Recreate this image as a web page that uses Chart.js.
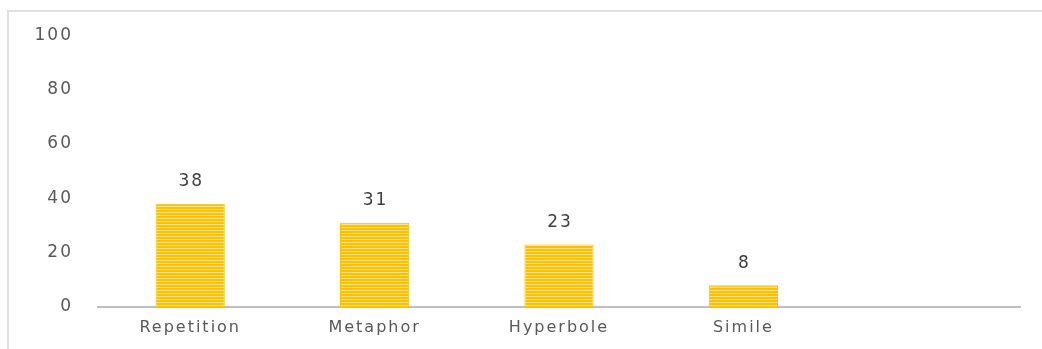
<!DOCTYPE html>
<html>
<head>
<meta charset="utf-8">
<script src="https://cdn.jsdelivr.net/npm/chart.js@4/dist/chart.umd.min.js"></script>
<style>
  body { margin: 0; background: #fff; overflow: hidden; }
  #wrap { position: relative; width: 1042px; height: 349px; }
  #frame { position: absolute; left: 7px; top: 10px; width: 1100px; height: 400px;
           border-top: 2px solid #e0e0e0; border-left: 2px solid #e0e0e0; }
</style>
</head>
<body>
<div id="wrap">
  <div id="frame"></div>
  <canvas id="grafica"></canvas>
</div>
<script>
// Datos de la gráfica
var categorias = ['Repetition', 'Metaphor', 'Hyperbole', 'Simile', ''];
var valores = [38, 31, 23, 8, null];
var ticksY = [0, 20, 40, 60, 80, 100];

// Relleno rayado de las barras
function rayado() {
  var c = document.createElement('canvas');
  c.width = 4; c.height = 3;
  var g = c.getContext('2d');
  g.fillStyle = '#FFC000';
  g.fillRect(0, 0, 4, 3);
  g.fillStyle = '#FFE38C';
  g.fillRect(0, 2, 4, 1);
  return g.createPattern(c, 'repeat');
}

// Espaciado de letras como en el original
var espaciado = {
  id: 'espaciado',
  beforeDraw: function (chart) {
    chart.ctx.letterSpacing = '2px';
  }
};

// Etiquetas de valor encima de cada barra
var etiquetas = {
  id: 'etiquetas',
  afterDatasetsDraw: function (chart) {
    var ctx = chart.ctx;
    var meta = chart.getDatasetMeta(0);
    ctx.save();
    ctx.letterSpacing = '2px';
    ctx.font = '17px "DejaVu Sans"';
    ctx.fillStyle = '#404040';
    ctx.textAlign = 'center';
    ctx.textBaseline = 'middle';
    meta.data.forEach(function (bar, i) {
      if (valores[i] == null) return;
      ctx.fillText(String(valores[i]), bar.x + 1, bar.y - 22);
    });
    ctx.restore();
  }
};

var ctx = document.getElementById('grafica').getContext('2d');
var myChart = new Chart(ctx, {
  type: 'bar',
  data: {
    labels: categorias,
    datasets: [{
      data: valores,
      backgroundColor: rayado(),
      borderColor: '#FFC000',
      borderWidth: 1,
      barPercentage: 0.75,
      categoryPercentage: 0.5
    }]
  },
  options: {
    responsive: true,
    maintainAspectRatio: false,
    animation: false,
    layout: { padding: { top: 32, right: 22, left: 0, bottom: 0 } },
    plugins: { legend: { display: false }, tooltip: { enabled: false } },
    scales: {
      x: {
        grid: { display: false, drawTicks: false },
        border: { color: '#bfbfbf', width: 2 },
        ticks: { color: '#595959', font: { family: 'DejaVu Sans', size: 16 }, padding: 11, maxRotation: 0 },
        afterFit: function (scale) { scale.height = 42; }
      },
      y: {
        min: 0,
        max: 100,
        grid: { display: false, drawTicks: false },
        border: { display: false },
        afterBuildTicks: function (scale) {
          scale.ticks = ticksY.map(function (v) { return { value: v }; });
        },
        ticks: { color: '#595959', font: { family: 'DejaVu Sans', size: 17 }, padding: 25 },
        afterFit: function (scale) { scale.width = 98; }
      }
    }
  },
  plugins: [espaciado, etiquetas]
});
</script>
</body>
</html>
